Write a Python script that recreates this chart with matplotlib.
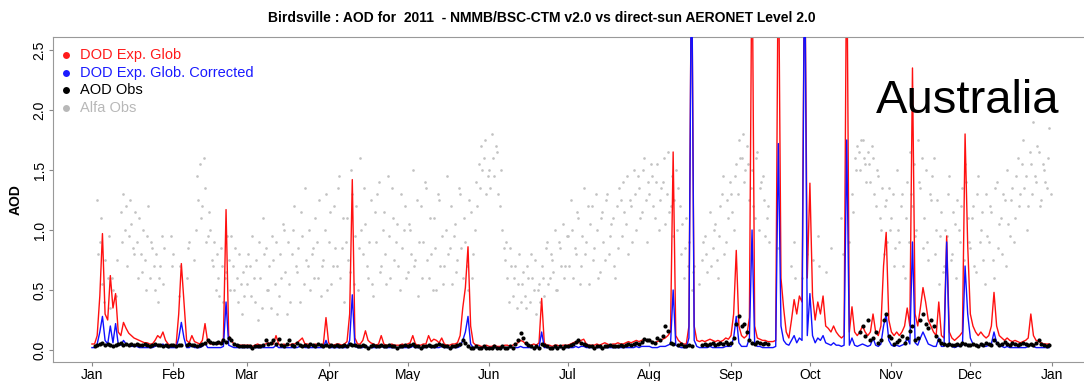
import numpy as np
import matplotlib
matplotlib.use("Agg")
import matplotlib.pyplot as plt
from matplotlib.lines import Line2D

nan = np.nan

# daily model AOD, Birdsville 2011 (day 0 = 1 Jan)
dod_glob = [
    # Jan
    0.05, 0.05, 0.12, 0.45, 0.97, 0.3, 0.25, 0.62, 0.35, 0.47, 0.15, 0.12, 0.23, 0.18, 0.14, 0.12,
    0.1, 0.09, 0.08, 0.07, 0.06, 0.06, 0.05, 0.05, 0.08, 0.12, 0.1, 0.15, 0.08, 0.05, 0.04,
    # Feb
    0.04, 0.04, 0.3, 0.72, 0.4, 0.08, 0.06, 0.12, 0.07, 0.06, 0.05, 0.08, 0.22, 0.07, 0.05, 0.05,
    0.06, 0.05, 0.05, 0.1, 1.17, 0.12, 0.08, 0.05, 0.04, 0.04, 0.04, 0.04,
    # Mar
    0.04, 0.04, 0.03, 0.04, 0.05, 0.04, 0.04, 0.05, 0.06, 0.05, 0.05, 0.12, 0.05, 0.04, 0.05, 0.04,
    0.04, 0.05, 0.05, 0.06, 0.08, 0.1, 0.05, 0.05, 0.04, 0.04, 0.05, 0.04, 0.04, 0.05, 0.27,
    # Apr
    0.06, 0.04, 0.04, 0.05, 0.05, 0.04, 0.05, 0.07, 0.3, 1.42, 0.1, 0.05, 0.05, 0.08, 0.16,
    0.08, 0.06, 0.05, 0.04, 0.05, 0.12, 0.05, 0.04, 0.04, 0.05, 0.04, 0.04, 0.04, 0.05, 0.04,
    # May
    0.05, 0.06, 0.12, 0.05, 0.04, 0.04, 0.05, 0.05, 0.12, 0.07, 0.09, 0.08, 0.06, 0.1, 0.05, 0.04,
    0.04, 0.05, 0.05, 0.06, 0.12, 0.35, 0.52, 0.86, 0.2, 0.06, 0.04, 0.04, 0.03, 0.03, 0.04,
    # Jun
    0.03, 0.03, 0.04, 0.03, 0.03, 0.03, 0.04, 0.04, 0.03, 0.04, 0.05, 0.06, 0.08, 0.07, 0.05,
    0.04, 0.04, 0.05, 0.04, 0.06, 0.43, 0.06, 0.04, 0.04, 0.03, 0.04, 0.04, 0.03, 0.04, 0.04,
    # Jul
    0.04, 0.05, 0.06, 0.07, 0.06, 0.08, 0.09, 0.05, 0.04, 0.04, 0.04, 0.05, 0.04, 0.05, 0.06, 0.05,
    0.04, 0.05, 0.05, 0.06, 0.05, 0.05, 0.06, 0.07, 0.06, 0.07, 0.08, 0.07, 0.08, 0.09, 0.08,
    # Aug
    0.08, 0.07, 0.06, 0.07, 0.08, 0.09, 0.1, 0.12, 0.15, 1.65, 0.12, 0.08, 0.06, 0.05, 0.05, 0.2,
    3.5, 0.2, 0.08, 0.07, 0.08, 0.07, 0.08, 0.09, 0.08, 0.07, 0.08, 0.07, 0.08, 0.1, 0.09,
    # Sep
    0.12, 0.3, 0.83, 0.2, 0.12, 0.1, 0.12, 0.27, 3.5, 0.2, 0.1, 0.09, 0.08, 0.08, 0.07,
    0.07, 0.07, 0.08, 3.5, 0.6, 0.35, 0.15, 0.1, 0.25, 0.42, 0.3, 0.45, 0.4, 3.5, 0.6,
    # Oct
    1.39, 0.45, 0.25, 0.4, 0.3, 0.45, 0.2, 0.18, 0.15, 0.2, 0.15, 0.12, 0.1, 0.12, 3.5, 0.15,
    0.36, 0.15, 0.12, 0.15, 0.2, 0.15, 0.12, 0.15, 0.3, 0.15, 0.12, 0.2, 0.7, 0.98, 0.25,
    # Nov
    0.15, 0.12, 0.15, 0.12, 0.15, 0.2, 0.35, 0.2, 2.35, 0.3, 0.2, 0.35, 0.52, 0.4, 0.25,
    0.2, 0.15, 0.12, 0.4, 0.12, 0.1, 0.95, 0.15, 0.1, 0.08, 0.1, 0.12, 0.15, 1.8, 0.87,
    # Dec
    0.3, 0.2, 0.15, 0.12, 0.15, 0.12, 0.1, 0.12, 0.2, 0.48, 0.2, 0.12, 0.1, 0.08, 0.1, 0.08,
    0.07, 0.08, 0.07, 0.06, 0.07, 0.08, 0.1, 0.3, 0.12, 0.08, 0.07, 0.06, 0.05, 0.05, 0.05,
]

dod_corr = [
    # Jan
    0.02, 0.02, 0.05, 0.15, 0.28, 0.08, 0.05, 0.2, 0.06, 0.22, 0.05, 0.04, 0.08, 0.05, 0.04, 0.03,
    0.03, 0.03, 0.02, 0.02, 0.02, 0.02, 0.02, 0.02, 0.03, 0.04, 0.03, 0.05, 0.03, 0.02, 0.02,
    # Feb
    0.02, 0.02, 0.1, 0.23, 0.1, 0.02, 0.02, 0.04, 0.02, 0.02, 0.02, 0.03, 0.06, 0.02, 0.02, 0.02,
    0.02, 0.02, 0.02, 0.03, 0.4, 0.04, 0.03, 0.02, 0.02, 0.02, 0.02, 0.02,
    # Mar
    0.02, 0.02, 0.02, 0.02, 0.02, 0.02, 0.02, 0.02, 0.02, 0.02, 0.02, 0.04, 0.02, 0.02, 0.02, 0.02,
    0.02, 0.02, 0.02, 0.02, 0.03, 0.03, 0.02, 0.02, 0.02, 0.02, 0.02, 0.02, 0.02, 0.02, 0.08,
    # Apr
    0.02, 0.02, 0.02, 0.02, 0.02, 0.02, 0.02, 0.02, 0.08, 0.46, 0.03, 0.02, 0.02, 0.02, 0.04,
    0.02, 0.02, 0.02, 0.02, 0.02, 0.03, 0.02, 0.02, 0.02, 0.02, 0.02, 0.02, 0.02, 0.02, 0.02,
    # May
    0.02, 0.02, 0.03, 0.02, 0.02, 0.02, 0.02, 0.02, 0.03, 0.02, 0.02, 0.02, 0.02, 0.03, 0.02, 0.02,
    0.02, 0.02, 0.02, 0.02, 0.03, 0.08, 0.15, 0.28, 0.05, 0.02, 0.02, 0.02, 0.02, 0.02, 0.02,
    # Jun
    0.02, 0.02, 0.02, 0.02, 0.02, 0.02, 0.02, 0.02, 0.02, 0.02, 0.02, 0.02, 0.03, 0.02, 0.02,
    0.02, 0.02, 0.02, 0.02, 0.02, 0.15, 0.02, 0.02, 0.02, 0.02, 0.02, 0.02, 0.02, 0.02, 0.02,
    # Jul
    0.02, 0.02, 0.02, 0.03, 0.02, 0.03, 0.03, 0.02, 0.02, 0.02, 0.02, 0.02, 0.02, 0.02, 0.02, 0.02,
    0.02, 0.02, 0.02, 0.02, 0.02, 0.02, 0.02, 0.02, 0.02, 0.02, 0.03, 0.02, 0.03, 0.03, 0.03,
    # Aug
    0.03, 0.02, 0.02, 0.02, 0.03, 0.03, 0.03, 0.04, 0.05, 0.5, 0.04, 0.03, 0.02, 0.02, 0.02, 0.1,
    3.5, 0.08, 0.03, 0.02, 0.02, 0.02, 0.02, 0.03, 0.02, 0.02, 0.02, 0.02, 0.02, 0.03, 0.03,
    # Sep
    0.03, 0.1, 0.28, 0.06, 0.03, 0.03, 0.03, 0.1, 1.0, 0.05, 0.03, 0.03, 0.02, 0.02, 0.02,
    0.02, 0.02, 0.03, 1.72, 0.2, 0.08, 0.05, 0.04, 0.08, 0.12, 0.06, 0.1, 0.08, 3.5, 0.12,
    # Oct
    0.47, 0.12, 0.06, 0.1, 0.08, 0.12, 0.06, 0.05, 0.04, 0.06, 0.04, 0.04, 0.03, 0.04, 1.75, 0.04,
    0.1, 0.04, 0.03, 0.04, 0.05, 0.04, 0.03, 0.04, 0.1, 0.04, 0.03, 0.05, 0.2, 0.3, 0.08,
    # Nov
    0.04, 0.03, 0.04, 0.03, 0.04, 0.05, 0.1, 0.05, 0.9, 0.06, 0.04, 0.1, 0.15, 0.1, 0.05,
    0.04, 0.03, 0.03, 0.1, 0.03, 0.03, 0.9, 0.05, 0.03, 0.02, 0.03, 0.03, 0.04, 0.7, 0.3,
    # Dec
    0.1, 0.05, 0.04, 0.03, 0.04, 0.03, 0.03, 0.04, 0.05, 0.15, 0.06, 0.03, 0.03, 0.02, 0.03, 0.02,
    0.02, 0.02, 0.02, 0.02, 0.02, 0.02, 0.03, 0.04, 0.03, 0.02, 0.02, 0.02, 0.02, 0.02, 0.02,
]

# AERONET direct-sun AOD (daily)
aod_obs = [
    # Jan
    nan, 0.03, 0.04, 0.05, 0.06, 0.04, 0.05, 0.04, 0.03, 0.04, 0.05, 0.06, 0.04, 0.05, 0.04, 0.05,
    0.04, 0.05, 0.04, 0.04, 0.05, 0.04, 0.03, 0.04, 0.05, 0.04, 0.04, 0.03, 0.04, 0.03, 0.04,
    # Feb
    0.04, 0.03, 0.04, 0.04, nan, 0.04, 0.05, 0.04, 0.04, 0.03, 0.04, 0.05, 0.06, 0.08, 0.07, 0.06,
    0.06, 0.07, 0.06, 0.08, 0.07, 0.1, 0.08, 0.05, 0.04, 0.03, 0.03, 0.03,
    # Mar
    0.03, 0.03, 0.02, 0.03, 0.03, 0.03, 0.04, 0.08, 0.05, 0.06, 0.08, 0.05, 0.09, 0.04, 0.03, 0.05,
    0.08, 0.04, 0.03, 0.06, 0.04, 0.03, 0.04, 0.03, 0.05, 0.04, 0.03, 0.05, 0.04, 0.03, 0.04,
    # Apr
    0.03, 0.04, 0.03, 0.04, 0.03, 0.03, 0.04, 0.03, 0.05, 0.04, 0.04, 0.03, 0.03, 0.04, 0.03,
    0.02, 0.03, 0.04, 0.03, 0.03, 0.04, 0.03, 0.03, 0.04, 0.03, 0.03, 0.02, 0.03, 0.03, 0.04,
    # May
    0.03, 0.04, 0.05, 0.03, 0.03, 0.02, 0.03, 0.03, 0.04, 0.03, 0.03, 0.04, 0.05, 0.04, 0.03, 0.03,
    0.02, 0.03, 0.03, 0.04, 0.05, 0.08, 0.06, 0.03, 0.02, 0.02, 0.03, 0.02, 0.02, 0.03, 0.02,
    # Jun
    0.02, 0.02, 0.03, 0.02, 0.02, 0.03, 0.02, 0.02, 0.03, 0.02, 0.05, 0.08, 0.14, 0.1, 0.06,
    0.04, 0.03, 0.02, 0.03, 0.02, 0.05, 0.04, 0.03, 0.02, 0.02, 0.03, 0.02, 0.03, 0.02, 0.03,
    # Jul
    0.03, 0.04, 0.05, 0.07, 0.08, 0.06, 0.05, 0.04, 0.03, 0.03, 0.02, 0.03, 0.03, 0.02, 0.03, 0.03,
    0.04, 0.03, 0.03, 0.03, 0.04, 0.03, 0.04, 0.05, 0.04, 0.05, 0.06, 0.05, 0.07, 0.09, 0.08,
    # Aug
    0.08, 0.07, 0.06, 0.1, 0.08, 0.12, 0.2, 0.16, 0.06, 0.05, nan, 0.04, 0.05, 0.03, 0.03, 0.04,
    0.03, nan, nan, nan, 0.04, 0.05, 0.04, 0.05, 0.06, 0.04, 0.05, 0.06, 0.05, 0.07, 0.05,
    # Sep
    0.06, 0.1, 0.22, 0.28, 0.2, 0.22, 0.15, 0.08, 0.06, 0.05, 0.07, 0.06, 0.05, 0.06, 0.05,
    nan, nan, nan, nan, nan, nan, nan, nan, nan, nan, nan, nan, nan, nan, nan,
    # Oct
    nan, nan, nan, nan, nan, nan, nan, nan, nan, nan, nan, nan, nan, nan, nan, nan,
    nan, nan, nan, 0.15, 0.2, 0.12, 0.25, 0.08, 0.1, 0.15, 0.06, 0.08, 0.25, 0.3, 0.12,
    # Nov
    0.1, 0.05, 0.07, 0.08, 0.12, 0.06, 0.1, 0.16, 0.2, 0.08, 0.1, 0.25, 0.3, 0.22, 0.18,
    0.25, 0.2, 0.12, 0.08, 0.06, 0.05, 0.04, 0.05, 0.04, 0.04, 0.05, 0.04, 0.06, 0.05, 0.04,
    # Dec
    0.04, 0.05, 0.04, 0.03, 0.05, 0.04, 0.06, 0.05, 0.04, 0.08, 0.06, 0.04, 0.05, 0.07, 0.05, 0.04,
    0.06, 0.05, 0.04, 0.05, 0.06, 0.05, 0.04, 0.05, 0.04, 0.06, 0.08, 0.05, 0.04, 0.03, 0.04,
]

# Angstrom exponent (two readings per day)
alfa_am = [
    nan, nan, 1.25, 0.9, 0.55, 0.75, 0.6, 0.35, 0.5, 0.45, nan, 1.15, 1.3, 1.2, 0.95, 1.05,
    0.8, 0.9, 1.1, 0.65, 0.75, 0.95, 0.6, 0.85, 0.5, 0.4, 0.7, 0.55, nan, nan, 0.95,
    0.8, nan, 0.45, nan, nan, 0.6, 0.9, nan, 0.75, 1.45, 1.55, 1.2, 1.35, 0.95, 1.0, 0.7,
    0.5, 0.6, 0.85, 0.4, 0.65, 0.75, 0.95, 0.5, 0.6, 0.8, 0.3, 0.45,
    0.55, 0.7, 0.95, 0.4, 0.25, 0.6, 1.1, 0.85, 0.5, 0.35, 0.75, 0.9, 0.45, 0.6, 1.0, 0.3,
    0.55, 0.8, 1.2, 0.65, 0.4, 0.95, 1.35, 0.7, 0.5, 0.85, 1.1, 0.6, 0.45, 0.75, 1.3,
    0.9, 0.55, 1.2, 0.7, 1.45, 0.85, 0.4, 1.1, 0.65, 1.3, 0.95, 0.5, 1.6, 0.8, 1.05,
    0.6, 1.25, 0.45, 0.9, 1.4, 0.7, 1.15, 0.55, 0.95, 1.35, 0.75, 1.05, 0.5, 0.85, 1.2,
    0.65, 1.0, 1.5, 0.75, 0.45, 1.2, 0.9, 1.35, 0.6, 0.8, 1.1, 0.5, 1.25, 0.95, 0.7, 1.45,
    0.85, 0.55, 1.05, 0.75, 1.3, 0.6, 0.9, 0.5, 1.15, 0.8, 1.4, 1.55, 1.7, 1.6, 1.3,
    1.5, 1.8, 1.45, 1.65, 1.2, 1.0, 0.75, 0.6, 0.85, 0.45, 0.7, 0.55, 0.4, 0.65, 0.35,
    0.6, 0.8, 0.5, 0.3, 0.55, 0.7, 0.45, 0.9, 0.6, 0.75, 1.0, 0.5, 0.85, 1.05, 0.7,
    0.95, 1.25, 0.6, 0.8, 1.1, 0.7, 1.35, 0.9, 0.55, 1.2, 0.85, 1.0, 0.65, 1.15, 0.75, 1.3,
    0.95, 1.1, 0.6, 0.85, 1.25, 1.4, 1.05, 0.8, 1.2, 1.5, 1.0, 1.35, 1.15, 1.6, 0.9,
    1.3, 1.45, 1.1, 1.55, 1.25, 1.4, 1.05, 1.65, 1.2, 0.95, 1.5, 1.35, 0.8, 0.6, 1.1, 0.9,
    0.5, 0.7, nan, 0.55, 0.75, 0.95, 0.65, 1.15, 0.85, 1.05, 0.6, 1.2, 1.45, 0.9, 1.1,
    1.3, 1.0, 1.55, 1.75, 1.6, 1.4, 1.7, 1.25, 1.5, 1.1, 1.65, 1.35, 1.45, 0.95, 1.2,
    nan, nan, nan, 0.85, nan, nan, nan, nan, 0.7, 0.9, nan, nan, 0.6, nan, 0.8,
    nan, 0.75, nan, 0.95, nan, nan, 0.65, nan, 0.85, nan, nan, nan, 1.1, nan, nan, 0.9,
    1.3, 1.6, 1.7, 1.5, 1.75, 1.55, 1.65, 1.4, 1.6, 1.2, 1.45, 1.0, 0.8, 1.25, 1.35,
    1.1, 0.7, 1.5, 0.9, 1.3, 0.6, 1.4, 1.65, 1.2, 0.95, 1.75, 1.35, 0.85, 1.5, 0.75,
    1.25, 1.6, 1.0, 0.55, 1.15, 0.7, 0.95, 1.45, 0.8, 1.05, 1.25, 0.9, 1.35, 1.55, 1.1,
    0.85, 1.2, 0.65, 1.45, 1.0, 0.75, 1.3, 0.9, 1.15, 0.6, 1.4, 1.05, 0.8, 1.25, 1.5, 0.95,
    1.35, 1.1, 1.6, 1.3, 1.75, 1.45, 1.2, 1.55, 1.9, 1.4, 1.65, 1.25, 1.5, 1.35, 1.85,
]

alfa_pm = [
    nan, nan, 0.8, 1.1, 0.4, nan, 0.95, 0.6, nan, 0.75, nan, 0.9, 1.0, 0.7, 1.25, 0.85,
    1.15, 0.6, 0.8, 1.0, 0.5, 1.2, 0.9, 0.7, 0.8, 0.6, 0.95, 0.85, nan, nan, 0.7,
    nan, nan, 0.7, nan, nan, 0.85, nan, nan, 1.0, 1.25, 1.1, 1.6, 0.9, 1.15, 0.75, 0.9,
    0.8, 0.45, 0.7, 0.6, 0.95, 0.5, 0.7, 0.85, 0.4, 0.55, 0.65, 0.7,
    0.8, 0.45, 0.6, 0.75, 0.9, 0.35, 0.8, 0.5, 0.7, 0.95, 0.55, 0.3, 0.8, 1.05, 0.65, 0.9,
    0.4, 1.0, 0.7, 0.85, 1.15, 0.55, 0.75, 1.0, 0.8, 0.6, 0.9, 1.25, 0.7, 1.0, 0.5,
    1.15, 0.7, 0.85, 1.35, 0.6, 1.1, 0.9, 0.75, 1.5, 0.55, 1.2, 0.85, 1.0, 1.35, 0.7,
    0.9, 0.55, 1.15, 1.3, 0.65, 1.0, 0.8, 1.45, 0.6, 1.1, 0.9, 0.7, 1.3, 1.0, 0.6,
    1.05, 0.8, 0.7, 1.25, 0.9, 0.6, 1.4, 0.75, 1.1, 0.5, 0.85, 1.3, 0.7, 0.55, 1.0, 0.8,
    1.2, 0.95, 0.65, 1.35, 0.85, 1.1, 0.7, 1.25, 0.6, 1.0, 1.2, 1.35, 1.5, 1.75, 1.45,
    1.35, 1.6, 1.7, 1.3, 1.5, 0.85, 0.9, 0.4, 0.7, 0.6, 0.35, 0.8, 0.55, 0.45, 0.7,
    0.4, 0.6, 0.75, 0.5, 0.4, 0.6, 0.85, 0.55, 0.8, 0.65, 0.5, 0.9, 0.7, 0.6, 0.95,
    0.7, 1.0, 0.85, 1.15, 0.55, 0.95, 0.8, 1.2, 1.05, 0.75, 1.3, 0.6, 1.1, 0.9, 1.25, 0.8,
    1.05, 0.7, 1.2, 1.35, 0.95, 1.15, 1.45, 1.25, 0.9, 1.3, 1.45, 1.1, 1.5, 1.25, 1.4,
    1.55, 1.2, 1.4, 1.0, 1.35, 1.6, 1.3, 1.15, 1.45, 1.25, 1.0, 1.2, 1.05, 0.85, 0.7, nan,
    0.65, nan, nan, nan, 0.9, 0.8, nan, 0.7, 1.0, 0.75, 0.95, 1.3, 0.8, 1.25, 1.4,
    1.15, 1.45, 1.3, 1.6, 1.8, 1.5, 1.55, 1.35, 1.2, 1.6, 1.0, 1.4, 1.25, 1.1, 0.9,
    nan, nan, nan, nan, nan, nan, nan, nan, nan, 0.6, nan, nan, nan, nan, nan,
    nan, nan, nan, 0.7, nan, nan, nan, nan, nan, nan, nan, nan, 0.8, nan, nan, nan,
    1.15, 1.5, 1.65, 1.75, 1.6, 1.4, 1.55, 1.7, 1.3, 1.5, 1.1, 1.35, 1.2, 0.9, 1.0,
    1.3, 0.85, 1.0, 1.2, 0.7, 1.1, 0.9, 1.3, 1.55, 1.0, 1.4, 1.6, 1.1, 0.9, 1.3,
    1.45, 0.8, 1.25, 0.95, 0.65, 1.0, 1.3, 0.75, 1.15, 0.6, 1.0, 1.2, 0.75, 1.4, 0.9,
    1.1, 0.7, 1.3, 0.9, 1.15, 0.55, 0.95, 1.2, 0.75, 1.35, 0.85, 1.1, 1.3, 0.7, 1.05, 1.25,
    0.9, 1.45, 1.2, 1.55, 1.35, 1.0, 1.65, 1.3, 1.45, 1.7, 1.2, 1.55, 1.4, 1.6, 1.3,
]

month_labels = ["Jan", "Feb", "Mar", "Apr", "May", "Jun", "Jul", "Aug", "Sep", "Oct", "Nov", "Dec", "Jan"]
month_starts = [0, 31, 59, 90, 120, 151, 181, 212, 243, 273, 304, 334, 365]

for s in (dod_glob, dod_corr, aod_obs, alfa_am, alfa_pm):
    assert len(s) == 365, len(s)

days = np.arange(365)

plt.rcParams["font.family"] = ["Liberation Sans", "DejaVu Sans"]

fig = plt.figure(figsize=(10.84, 3.81), dpi=100)
ax = fig.add_axes([53 / 1084, 19 / 381, 1037 / 1084, 325 / 381])

ax.plot(days, alfa_am, ".", color="#c2c2c2", ms=1.8, zorder=1)
ax.plot(days + 0.5, alfa_pm, ".", color="#c2c2c2", ms=1.8, zorder=1)
ax.plot(days, dod_glob, color="#ff1010", lw=1.0, zorder=2)
ax.plot(days, dod_corr, color="#1010ff", lw=1.0, zorder=3)
ax.plot(days, aod_obs, "o", color="black", ms=3.0, mec="none", zorder=4)

ax.set_xlim(-14.8, 379.5)
ax.set_ylim(-0.1, 2.608)
ax.set_xticks(month_starts)
ax.set_xticklabels(month_labels, fontsize=10)
ax.set_yticks([0, 0.5, 1.0, 1.5, 2.0, 2.5])
ax.set_yticklabels(["0.0", "0.5", "1.0", "1.5", "2.0", "2.5"], fontsize=10, rotation=90, va="center")
ax.tick_params(axis="both", length=3, color="#888888", pad=1.5)
for sp in ax.spines.values():
    sp.set_color("#999999")
ax.set_ylabel("AOD", fontsize=10, fontweight="bold", labelpad=7)

fig.text(0.5, 1 - 18 / 381, "Birdsville : AOD for  2011  - NMMB/BSC-CTM v2.0 vs direct-sun AERONET Level 2.0",
         ha="center", va="center", fontsize=10, fontweight="bold")

# legend, R style
legend_items = [("DOD Exp. Glob", "#ff1a1a"), ("DOD Exp. Glob. Corrected", "#1a1aff"),
                ("AOD Obs", "black"), ("Alfa Obs", "#b8b8b8")]
for i, (lab, col) in enumerate(legend_items):
    yy = 1 - (55 + i * 17.7) / 381
    fig.add_artist(Line2D([66 / 1084], [yy], transform=fig.transFigure, marker="o", ms=5,
                          color=col, mec="none", linestyle="none"))
    fig.text(80 / 1084, yy, lab, color=col, fontsize=10.5, va="center", ha="left")

fig.text(876 / 1084, 1 - 113 / 381, "Australia", fontsize=34, ha="left", va="baseline")

fig.savefig("out.png", dpi=100)
